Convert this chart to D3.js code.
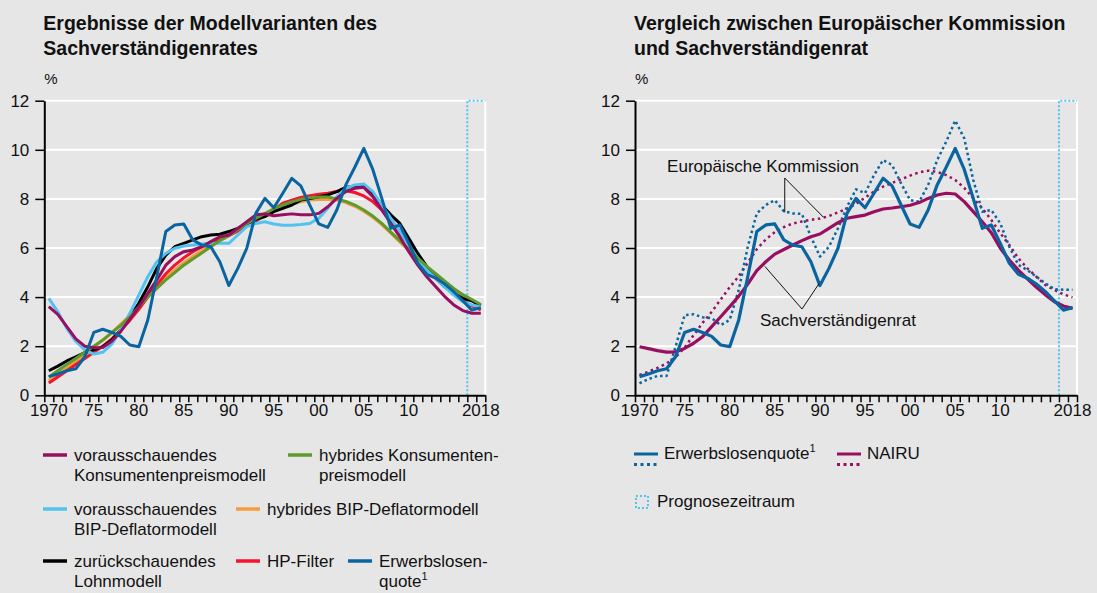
<!DOCTYPE html>
<html>
<head>
    <meta charset="utf-8">
    <title>NAIRU Modellvarianten</title>
    <style>
        body { margin: 0; background: #e6e6e6; }
        svg { display: block; font-family: "Liberation Sans", Arial, sans-serif; }
        .title { font-family: "Liberation Sans Narrow", "Liberation Sans", sans-serif; font-weight: bold; font-size: 19.5px; fill: #111; }
        .axis text { font-size: 17px; fill: #111; font-family: "Liberation Sans", Arial, sans-serif; }
        .legend text { font-size: 17px; fill: #111; }
        .note { font-size: 17px; fill: #111; }
    </style>
</head>
<body>
<svg id="chart" width="1097" height="593"></svg>
<script src="https://d3js.org/d3.v7.min.js"></script>
<script>
// years 1970 .. 2018 (annual values, in %)
const years = d3.range(1970, 2019);
const yTicks = [0, 2, 4, 6, 8, 10, 12];
const xLabels = { 1970: "1970", 1975: "75", 1980: "80", 1985: "85", 1990: "90",
                  1995: "95", 2000: "00", 2005: "05", 2010: "10", 2018: "2018" };
const forecastStart = 2017;

// Erwerbslosenquote (Sachverständigenrat)
const erwerbslosenquote = [
    0.76, 0.87, 1.0, 1.08, 1.57, 2.56, 2.69, 2.56, 2.4, 2.05,
    1.98, 3.07, 4.83, 6.67, 6.94, 6.98, 6.33, 6.12, 6.05, 5.44,
    4.47, 5.17, 5.99, 7.41, 8.02, 7.64, 8.23, 8.84, 8.53, 7.75,
    6.98, 6.84, 7.55, 8.57, 9.29, 10.06, 9.2, 8.02, 6.8, 6.94,
    6.19, 5.38, 4.93, 4.77, 4.53, 4.22, 3.85, 3.47, 3.57];
// Erwerbslosenquote (Europäische Kommission)
const erwerbslosenquoteEU = [
    0.49, 0.66, 0.79, 0.79, 1.98, 3.27, 3.3, 3.18, 3.14, 2.86,
    3.07, 4.29, 6.05, 7.41, 7.75, 7.95, 7.5, 7.41, 7.39, 6.46,
    5.65, 6.05, 6.8, 7.68, 8.39, 8.23, 8.97, 9.58, 9.38, 8.63,
    7.95, 7.88, 8.57, 9.58, 10.33, 11.19, 10.47, 8.77, 7.48, 7.55,
    7.0, 6.05, 5.31, 5.1, 4.83, 4.56, 4.32, 4.3, 4.3];
// NAIRU Sachverständigenrat
const nairuSVR = [
    1.98, 1.9, 1.82, 1.76, 1.77, 1.91, 2.12, 2.39, 2.8, 3.2,
    3.61, 4.04, 4.53, 5.08, 5.44, 5.75, 5.94, 6.12, 6.3, 6.46,
    6.57, 6.8, 7.03, 7.21, 7.28, 7.34, 7.48, 7.59, 7.63, 7.68,
    7.74, 7.85, 8.02, 8.16, 8.23, 8.2, 7.89, 7.48, 7.07, 6.62,
    5.99, 5.51, 5.1, 4.74, 4.4, 4.09, 3.81, 3.64, 3.54];
// NAIRU Europäische Kommission
const nairuEU = [
    0.83, 0.96, 1.12, 1.3, 1.55, 1.95, 2.45, 2.95, 3.4, 3.9,
    4.4, 4.85, 5.4, 5.95, 6.35, 6.65, 6.85, 7.0, 7.08, 7.15,
    7.2, 7.3, 7.45, 7.6, 7.8, 8.05, 8.3, 8.5, 8.65, 8.8,
    8.95, 9.08, 9.15, 9.1, 8.97, 8.77, 8.45, 8.02, 7.62, 7.14,
    6.6, 6.12, 5.58, 5.17, 4.83, 4.49, 4.29, 4.11, 3.99];

// Modellvarianten
const vorKonsum = [
    3.61, 3.3, 2.8, 2.3, 2.0, 1.94, 1.95, 2.2, 2.6, 3.1,
    3.6, 4.15, 4.7, 5.3, 5.65, 5.85, 5.92, 6.05, 6.26, 6.46,
    6.53, 6.8, 7.07, 7.35, 7.39, 7.31, 7.35, 7.39, 7.35, 7.35,
    7.41, 7.68, 8.02, 8.3, 8.43, 8.47, 8.09, 7.55, 7.0, 6.46,
    5.85, 5.3, 4.83, 4.42, 4.02, 3.68, 3.45, 3.34, 3.34];
const vorBIP = [
    3.95, 3.4, 2.73, 2.2, 1.85, 1.68, 1.75, 2.08, 2.66, 3.34,
    4.08, 4.83, 5.44, 5.78, 5.99, 6.08, 6.12, 6.16, 6.19, 6.19,
    6.19, 6.53, 6.87, 7.0, 7.07, 6.98, 6.93, 6.93, 6.96, 7.0,
    7.21, 7.62, 8.09, 8.43, 8.57, 8.61, 8.3, 7.75, 7.21, 6.67,
    6.12, 5.58, 5.1, 4.76, 4.42, 4.08, 3.81, 3.68, 3.61];
const zurLohn = [
    1.0, 1.19, 1.4, 1.57, 1.74, 1.85, 1.98, 2.25, 2.66, 3.18,
    3.75, 4.42, 5.17, 5.71, 6.05, 6.19, 6.33, 6.46, 6.53, 6.56,
    6.67, 6.8, 6.98, 7.17, 7.28, 7.48, 7.62, 7.75, 7.95, 8.02,
    8.09, 8.16, 8.3, 8.47, 8.53, 8.5, 8.23, 7.75, 7.35, 7.0,
    6.4, 5.78, 5.24, 4.76, 4.42, 4.15, 3.95, 3.85, 3.64];
const hybKonsum = [
    0.75, 1.0, 1.25, 1.5, 1.75, 2.0, 2.25, 2.55, 2.85, 3.2,
    3.6, 4.0, 4.35, 4.7, 5.0, 5.3, 5.55, 5.8, 6.05, 6.3,
    6.5, 6.75, 7.0, 7.2, 7.4, 7.6, 7.75, 7.88, 7.98, 8.05,
    8.08, 8.08, 8.0, 7.9, 7.75, 7.55, 7.3, 7.0, 6.65, 6.3,
    5.95, 5.6, 5.25, 4.95, 4.65, 4.35, 4.1, 3.9, 3.7];
const hybBIP = [
    0.6, 0.85, 1.1, 1.38, 1.65, 1.95, 2.25, 2.55, 2.9, 3.25,
    3.65, 4.05, 4.45, 4.8, 5.1, 5.4, 5.65, 5.9, 6.1, 6.3,
    6.5, 6.7, 6.9, 7.1, 7.3, 7.48, 7.66, 7.78, 7.88, 7.95,
    7.98, 7.98, 7.95, 7.85, 7.7, 7.5, 7.25, 6.95, 6.6, 6.25,
    5.9, 5.55, 5.2, 4.9, 4.6, 4.3, 4.05, 3.85, 3.68];
const hpFilter = [
    0.5, 0.75, 1.0, 1.25, 1.5, 1.75, 2.0, 2.3, 2.65, 3.05,
    3.5, 4.0, 4.5, 4.95, 5.3, 5.6, 5.85, 6.05, 6.2, 6.35,
    6.5, 6.7, 6.9, 7.1, 7.35, 7.55, 7.83, 7.95, 8.06, 8.13,
    8.19, 8.23, 8.3, 8.33, 8.26, 8.12, 7.89, 7.55, 7.14, 6.67,
    6.19, 5.71, 5.24, 4.83, 4.49, 4.15, 3.88, 3.64, 3.48];

// colours
const cPurple = "#970f61", cLight = "#52c3f1", cBlack = "#000000", cGreen = "#5f9a2c",
      cOrange = "#f59d3d", cRed = "#f5142d", cBlue = "#0a64a0";

const svg = d3.select("#chart");
svg.append("rect").attr("width", 1097).attr("height", 593).attr("fill", "#e6e6e6");

const yTop = 100.7, yBottom = 395.3;
const y = d3.scaleLinear().domain([0, 12]).range([yBottom, yTop]);

// draws grid, axes and forecast box of one panel
function drawPanel(x0, x1, titleLines) {
    const g = svg.append("g");
    const x = d3.scaleBand().domain(years).range([x0, x1]);
    const xEdge = d3.scaleLinear().domain([1970, 2019]).range([x0, x1]);

    // title
    titleLines.forEach((t, i) => {
        g.append("text").attr("class", "title")
            .attr("x", x0 - 1).attr("y", 30 + i * 25).text(t);
    });
    g.append("text").attr("x", x0).attr("y", 84)
        .style("font-size", "15px").attr("fill", "#111").text("%");

    // grid
    g.selectAll(".grid").data(yTicks.filter(d => d > 0)).enter().append("line")
        .attr("x1", x0).attr("x2", x1)
        .attr("y1", d => y(d)).attr("y2", d => y(d))
        .attr("stroke", "#fff").attr("stroke-width", 2);
    g.append("line").attr("x1", x1).attr("x2", x1).attr("y1", yTop).attr("y2", yBottom)
        .attr("stroke", "#fff").attr("stroke-width", 2);

    // forecast box
    const fx = x(forecastStart);
    g.append("path")
        .attr("d", `M${fx},${yBottom}V${yTop}H${x1}`)
        .attr("fill", "none").attr("stroke", cLight)
        .attr("stroke-width", 2).attr("stroke-dasharray", "2,2");

    // y axis
    const ya = g.append("g").attr("class", "axis")
        .attr("transform", `translate(${x0},0)`)
        .call(d3.axisLeft(y).tickValues(yTicks).tickSize(9).tickPadding(6).tickSizeOuter(0));
    ya.select(".domain").attr("stroke", "#000").attr("stroke-width", 2);
    ya.selectAll(".tick line").attr("stroke", "#000").attr("stroke-width", 1.5);

    // x axis: ticks at year edges, labels centred in the year band
    const xa = g.append("g").attr("class", "axis")
        .attr("transform", `translate(0,${yBottom})`)
        .call(d3.axisBottom(xEdge).tickValues(d3.range(1970, 2020)).tickSize(7).tickFormat("").tickSizeOuter(0));
    xa.select(".domain").attr("stroke", "#000").attr("stroke-width", 2);
    xa.selectAll(".tick line").attr("stroke", "#000").attr("stroke-width", 1.5);
    const xl = g.append("g").attr("class", "axis")
        .attr("transform", `translate(0,${yBottom})`)
        .call(d3.axisBottom(x).tickValues(Object.keys(xLabels).map(Number))
            .tickSize(0).tickPadding(9).tickFormat(d => xLabels[d]));
    xl.select(".domain").remove();

    // position of a (fractional) year at the middle of its band
    const xMid = yr => xEdge(yr + 0.5);
    return { g, x, xMid };
}

function drawLine(panel, values, color, width, dash) {
    const line = d3.line()
        .x((d, i) => panel.xMid(years[i]))
        .y(d => y(d));
    panel.g.append("path").datum(values)
        .attr("d", line)
        .attr("fill", "none")
        .attr("stroke", color)
        .attr("stroke-width", width)
        .attr("stroke-linejoin", "round")
        .attr("stroke-dasharray", dash || null);
}

// left panel
const left = drawPanel(44.3, 485.3, ["Ergebnisse der Modellvarianten des", "Sachverständigenrates"]);
drawLine(left, hybBIP, cOrange, 3);
drawLine(left, hpFilter, cRed, 3);
drawLine(left, zurLohn, cBlack, 3);
drawLine(left, vorBIP, cLight, 3);
drawLine(left, hybKonsum, cGreen, 3);
drawLine(left, vorKonsum, cPurple, 3);
drawLine(left, erwerbslosenquote, cBlue, 3);

// right panel
const right = drawPanel(635, 1077, ["Vergleich zwischen Europäischer Kommission", "und Sachverständigenrat"]);
drawLine(right, nairuEU, cPurple, 2.5, "2.5,3.5");
drawLine(right, erwerbslosenquoteEU, cBlue, 2.5, "2.5,3");
drawLine(right, nairuSVR, cPurple, 3.2);
drawLine(right, erwerbslosenquote, cBlue, 3.2);

// annotations on the right panel
const ann = right.g.append("g");
ann.append("text").attr("class", "note").attr("x", 763).attr("y", 172)
    .attr("text-anchor", "middle").text("Europäische Kommission");
ann.append("path").attr("fill", "none").attr("stroke", "#111").attr("stroke-width", 1)
    .attr("d", `M${right.xMid(1986.1)},${y(7.45)}V178L${right.xMid(1990.4)},${y(7.25)}`);
ann.append("text").attr("class", "note").attr("x", 760).attr("y", 326).text("Sachverständigenrat");
ann.append("path").attr("fill", "none").attr("stroke", "#111").attr("stroke-width", 1)
    .attr("d", `M${right.xMid(1983.9)},${y(5.25)}L802,309L${right.xMid(1989.9)},${y(4.55)}`);

// left legend
const legendLeft = [
    { lines: ["vorausschauendes", "Konsumentenpreismodell"], color: cPurple, x: 43, y: 455 },
    { lines: ["hybrides Konsumenten-", "preismodell"], color: cGreen, x: 288, y: 455 },
    { lines: ["vorausschauendes", "BIP-Deflatormodell"], color: cLight, x: 43, y: 509 },
    { lines: ["hybrides BIP-Deflatormodell"], color: cOrange, x: 236, y: 509 },
    { lines: ["zurückschauendes", "Lohnmodell"], color: cBlack, x: 43, y: 561 },
    { lines: ["HP-Filter"], color: cRed, x: 236, y: 561 },
    { lines: ["Erwerbslosen-", "quote"], color: cBlue, x: 348, y: 561, sup: true }
];
const lg = svg.append("g").attr("class", "legend");
legendLeft.forEach(d => {
    lg.append("line").attr("x1", d.x).attr("x2", d.x + 24).attr("y1", d.y).attr("y2", d.y)
        .attr("stroke", d.color).attr("stroke-width", 3.5);
    d.lines.forEach((t, i) => {
        const tx = lg.append("text").attr("x", d.x + 31).attr("y", d.y + 6 + i * 19.5).text(t);
        if (d.sup && i === d.lines.length - 1) {
            tx.append("tspan").attr("dy", -7).style("font-size", "11px").text("1");
        }
    });
});

// right legend
const lr = svg.append("g").attr("class", "legend");
[{ x: 634, color: cBlue, label: "Erwerbslosenquote", sup: true },
 { x: 837, color: cPurple, label: "NAIRU" }].forEach(d => {
    lr.append("line").attr("x1", d.x).attr("x2", d.x + 24).attr("y1", 454).attr("y2", 454)
        .attr("stroke", d.color).attr("stroke-width", 3);
    lr.append("line").attr("x1", d.x).attr("x2", d.x + 24).attr("y1", 464.5).attr("y2", 464.5)
        .attr("stroke", d.color).attr("stroke-width", 3).attr("stroke-dasharray", "3,3.5");
    const t = lr.append("text").attr("x", d.x + 30).attr("y", 459).text(d.label);
    if (d.sup) t.append("tspan").attr("dy", -7).style("font-size", "11px").text("1");
});
lr.append("rect").attr("x", 636).attr("y", 496).attr("width", 12).attr("height", 12)
    .attr("fill", "none").attr("stroke", cLight).attr("stroke-width", 2).attr("stroke-dasharray", "2,2");
lr.append("text").attr("x", 657).attr("y", 507).text("Prognosezeitraum");
</script>
</body>
</html>
